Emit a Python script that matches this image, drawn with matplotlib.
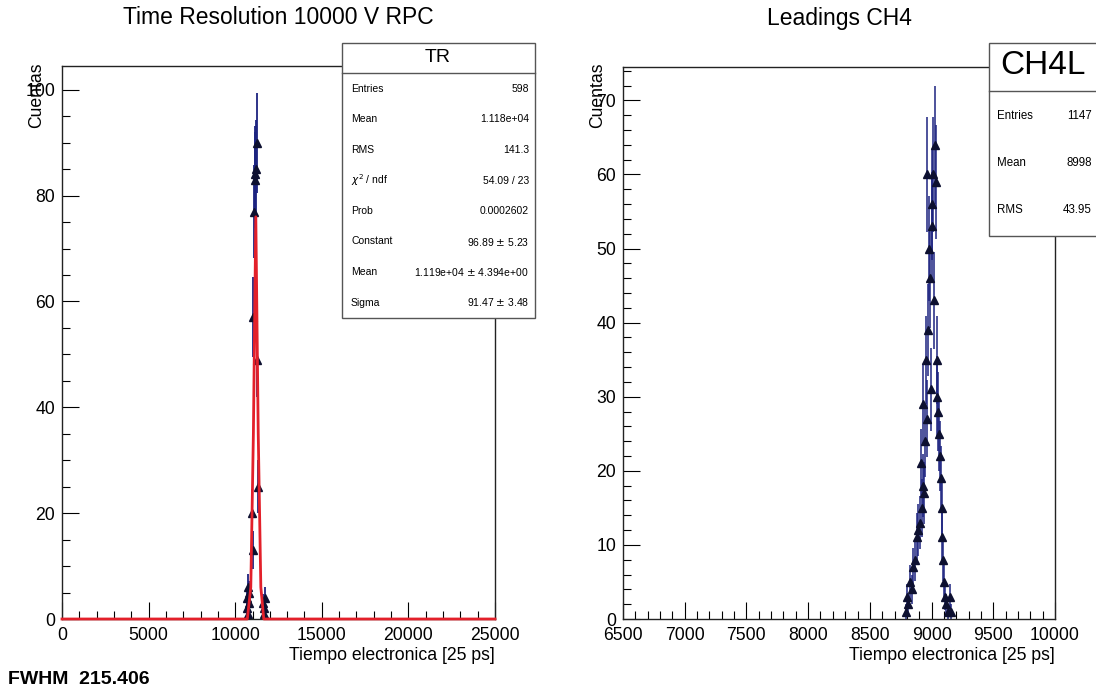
import matplotlib
matplotlib.use("Agg")
import matplotlib.pyplot as plt
from matplotlib.patches import Rectangle
from matplotlib.ticker import MultipleLocator
import numpy as np

plt.rcParams["font.family"] = ["Liberation Sans", "DejaVu Sans"]

# --- left panel: time resolution histogram (bin centre, counts) ---
tr_x = [10660, 10690, 10720, 10750, 10780, 10810, 10990, 11010, 11050, 11100,
        11140, 11170, 11200, 11240, 11280, 11330, 11600, 11640, 11680, 11720]
tr_n = [2, 4, 6, 1, 3, 5, 20, 13, 57, 77, 84, 83, 85, 90, 49, 25, 3, 1, 2, 4]

# gaussian fit curve as drawn
fit_x = [0, 10700, 10900, 11050, 11190, 11330, 11480, 11650, 25000]
fit_y = [0, 0, 6, 35, 76, 35, 6, 0, 0]

# --- right panel: leadings CH4 ---
ch4_x = [8790, 8798, 8812, 8825, 8838, 8852, 8866, 8879, 8893, 8906,
         8913, 8920, 8928, 8933, 8939, 8946, 8952, 8960, 8966, 8973,
         8980, 8987, 8993, 9000, 9007, 9014, 9020, 9027, 9034, 9040,
         9046, 9054, 9060, 9068, 9075, 9081, 9088, 9095, 9102, 9110,
         9120, 9135, 9149, 9160]
ch4_n = [1, 3, 2, 5, 4, 7, 8, 11, 12, 13,
         21, 15, 18, 29, 17, 24, 35, 27, 60, 39,
         50, 46, 31, 56, 53, 60, 43, 64, 59, 35,
         30, 28, 25, 22, 19, 15, 11, 8, 5, 3,
         2, 1, 3, 1]

tr_stats = [("Entries", "598"), ("Mean", "1.118e+04"), ("RMS", "141.3"),
            (r"$\chi^{2}$ / ndf", "54.09 / 23"), ("Prob", "0.0002602"),
            ("Constant", "96.89 $\\pm$ 5.23"),
            ("Mean", "1.119e+04 $\\pm$ 4.394e+00"), ("Sigma", "91.47 $\\pm$ 3.48")]
ch4_stats = [("Entries", "1147"), ("Mean", "8998"), ("RMS", "43.95")]

W, H = 1096, 692
BAR = "#1c2380"
MARK = "#0d1030"
RED = "#e3202a"
FS = 12.7


def fx(px):
    return px / W


def fy(py):
    return 1 - py / H


fig = plt.figure(figsize=(W / 100, H / 100), dpi=100)
ax1 = fig.add_axes([fx(62), fy(619), (495 - 62) / W, (619 - 66) / H])
ax2 = fig.add_axes([fx(623), fy(619), (1055 - 623) / W, (619 - 67) / H])

ax1.errorbar(tr_x, tr_n, yerr=np.sqrt(tr_n), fmt="^", color=MARK, ecolor=BAR,
             elinewidth=1.3, capsize=0, ms=6)
ax1.plot(fit_x, fit_y, color=RED, lw=2, zorder=3, clip_on=False)
ax1.set_xlim(0, 25000)
ax1.set_ylim(0, 104.5)
ax1.xaxis.set_major_locator(MultipleLocator(5000))
ax1.xaxis.set_minor_locator(MultipleLocator(1000))
ax1.yaxis.set_major_locator(MultipleLocator(20))
ax1.yaxis.set_minor_locator(MultipleLocator(5))

ax2.errorbar(ch4_x, ch4_n, yerr=np.sqrt(ch4_n), fmt="^", color=MARK, ecolor=BAR,
             elinewidth=1.1, capsize=0, ms=5.5)
ax2.set_xlim(6500, 10000)
ax2.set_ylim(0, 74.5)
ax2.xaxis.set_major_locator(MultipleLocator(500))
ax2.xaxis.set_minor_locator(MultipleLocator(100))
ax2.yaxis.set_major_locator(MultipleLocator(10))
ax2.yaxis.set_minor_locator(MultipleLocator(2))

for ax in (ax1, ax2):
    ax.tick_params(which="both", direction="in", top=False, right=False,
                   labelsize=FS, width=0.8)
    ax.tick_params(axis="x", which="major", length=12, pad=6)
    ax.tick_params(axis="x", which="minor", length=6)
    ax.tick_params(axis="y", which="major", length=12, pad=5)
    ax.tick_params(axis="y", which="minor", length=6)
    for s in ax.spines.values():
        s.set_linewidth(1)
        s.set_color("#222222")

# titles and axis labels
fig.text(fx(278.5), fy(18), "Time Resolution 10000 V RPC", ha="center", va="center", fontsize=16.5)
fig.text(fx(839), fy(18), "Leadings CH4", ha="center", va="center", fontsize=16.5)
fig.text(fx(495), fy(655), "Tiempo electronica [25 ps]", ha="right", va="center", fontsize=FS)
fig.text(fx(1055), fy(655), "Tiempo electronica [25 ps]", ha="right", va="center", fontsize=FS)
fig.text(fx(37), fy(63), "Cuentas", rotation=90, ha="center", va="top", fontsize=FS)
fig.text(fx(598), fy(63), "Cuentas", rotation=90, ha="center", va="top", fontsize=FS)
fig.text(fx(8), fy(680), "FWHM  215.406", ha="left", va="center", fontsize=14, fontweight="bold")

# stats boxes drawn in pixel coordinates
ov = fig.add_axes([0, 0, 1, 1])
ov.set_xlim(0, W)
ov.set_ylim(H, 0)
ov.axis("off")
ov.set_zorder(10)

ov.add_patch(Rectangle((342, 43), 193, 275, fc="white", ec="#555555", lw=1))
ov.plot([342, 535], [73, 73], color="#555555", lw=1)
ov.text(438, 58, "TR", ha="center", va="center", fontsize=14)
for i, (lab, val) in enumerate(tr_stats):
    yy = 89 + i * 30.5
    ov.text(351, yy, lab, ha="left", va="center", fontsize=7.5)
    ov.text(529, yy, val, ha="right", va="center", fontsize=7.5)

ov.add_patch(Rectangle((989, 43), 120, 193, fc="white", ec="#555555", lw=1, clip_on=False))
ov.plot([989, 1096], [91, 91], color="#555555", lw=1)
ov.text(1043, 66, "CH4L", ha="center", va="center", fontsize=24)
for i, (lab, val) in enumerate(ch4_stats):
    yy = 116 + i * 47
    ov.text(997, yy, lab, ha="left", va="center", fontsize=8.3)
    ov.text(1092, yy, val, ha="right", va="center", fontsize=8.3)

fig.savefig("out.png", dpi=100, facecolor="white")
